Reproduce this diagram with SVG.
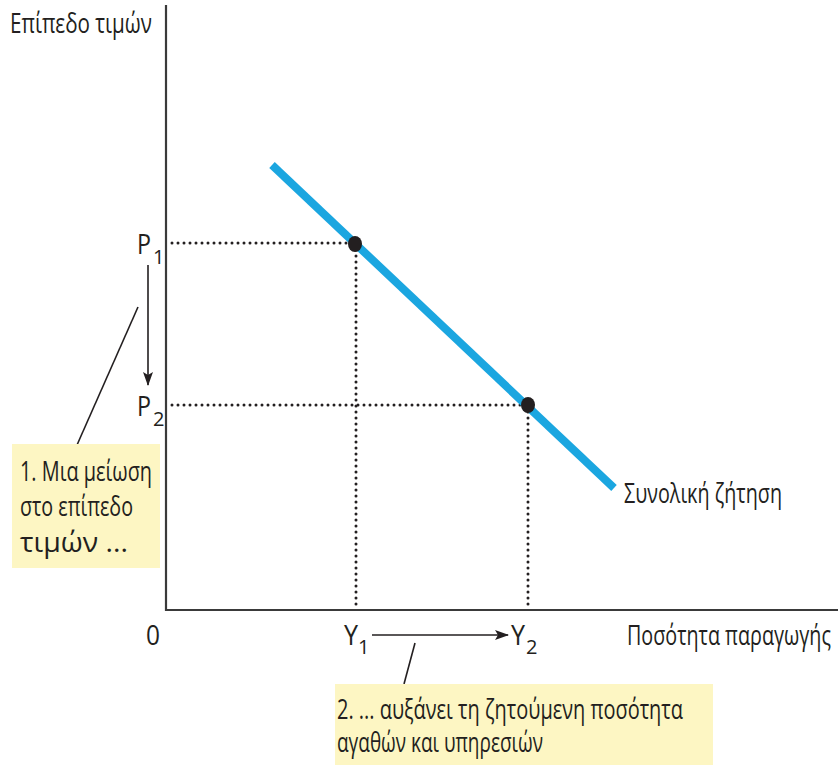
<svg xmlns="http://www.w3.org/2000/svg" width="838" height="765" viewBox="0 0 838 765">
<style>
text{font-family:"Open Sans","Noto Sans","DejaVu Sans",sans-serif;font-size:28px;fill:#231f20}
.sub{font-size:20px}
.axis{stroke:#3a3a3a;stroke-width:2.2;fill:none}
.dot{stroke:#231f20;stroke-width:3;stroke-dasharray:0 6;stroke-linecap:round;fill:none}
.thin{stroke:#231f20;stroke-width:1.6;fill:none}
.box{fill:#fdf6c3}
</style>
<defs>
<marker id="ah" viewBox="0 0 14 10" refX="13" refY="5" markerWidth="14" markerHeight="10" markerUnits="userSpaceOnUse" orient="auto">
<path d="M0,0 L14,5 L0,10 L3,5 Z" fill="#231f20"/>
</marker>
</defs>
<rect width="838" height="765" fill="#fff"/>
<g id="axes">
<line class="axis" x1="166" y1="5" x2="166" y2="611"/>
<line class="axis" x1="165" y1="610" x2="838" y2="610"/>
<text x="10" y="33" textLength="142" lengthAdjust="spacingAndGlyphs">Επίπεδο τιμών</text>
<text x="627" y="645" textLength="204" lengthAdjust="spacingAndGlyphs">Ποσότητα παραγωγής</text>
<text x="146" y="645" textLength="14" lengthAdjust="spacingAndGlyphs">0</text>
</g>
<g id="connectors">
<line class="dot" x1="172" y1="243" x2="352" y2="243"/>
<line class="dot" x1="356" y1="250" x2="356" y2="608"/>
<line class="dot" x1="172" y1="405" x2="524" y2="405"/>
<line class="dot" x1="528" y1="412" x2="528" y2="608"/>
<line class="thin" x1="148" y1="265" x2="148" y2="385" marker-end="url(#ah)"/>
<line class="thin" x1="372" y1="635" x2="508" y2="635" marker-end="url(#ah)"/>
<line class="thin" x1="138" y1="307" x2="77" y2="445"/>
<line class="thin" x1="415" y1="643" x2="404" y2="684"/>
</g>
<g id="demand">
<line x1="272" y1="165" x2="614" y2="488" stroke="#1ba6e0" stroke-width="8"/>
<text x="624" y="503" textLength="158" lengthAdjust="spacingAndGlyphs">Συνολική ζήτηση</text>
</g>
<g id="point1">
<ellipse cx="355" cy="244" rx="7" ry="8" fill="#231f20"/>
</g>
<g id="point2">
<ellipse cx="528" cy="405" rx="7" ry="8" fill="#231f20"/>
</g>
<g id="labelP1"><text x="137" y="254" textLength="14" lengthAdjust="spacingAndGlyphs">P</text><text class="sub" x="153" y="264">1</text></g>
<g id="labelP2"><text x="137" y="416" textLength="14" lengthAdjust="spacingAndGlyphs">P</text><text class="sub" x="153" y="426">2</text></g>
<g id="labelY1"><text x="344" y="645" textLength="14" lengthAdjust="spacingAndGlyphs">Y</text><text class="sub" x="358" y="654">1</text></g>
<g id="labelY2"><text x="511" y="645" textLength="14" lengthAdjust="spacingAndGlyphs">Y</text><text class="sub" x="526" y="654">2</text></g>
<g id="note1">
<rect class="box" x="12" y="444" width="148" height="124"/>
<text x="20" y="481" textLength="132" lengthAdjust="spacingAndGlyphs">1. Μια μείωση</text>
<text x="20" y="516" textLength="113" lengthAdjust="spacingAndGlyphs">στο επίπεδο</text>
<text x="20" y="552" textLength="108" lengthAdjust="spacingAndGlyphs">τιμών ...</text>
</g>
<g id="note2">
<rect class="box" x="335" y="684" width="378" height="81"/>
<text x="337" y="719" textLength="346" lengthAdjust="spacingAndGlyphs">2. ... αυξάνει τη ζητούμενη ποσότητα</text>
<text x="337" y="752" textLength="206" lengthAdjust="spacingAndGlyphs">αγαθών και υπηρεσιών</text>
</g>
</svg>
